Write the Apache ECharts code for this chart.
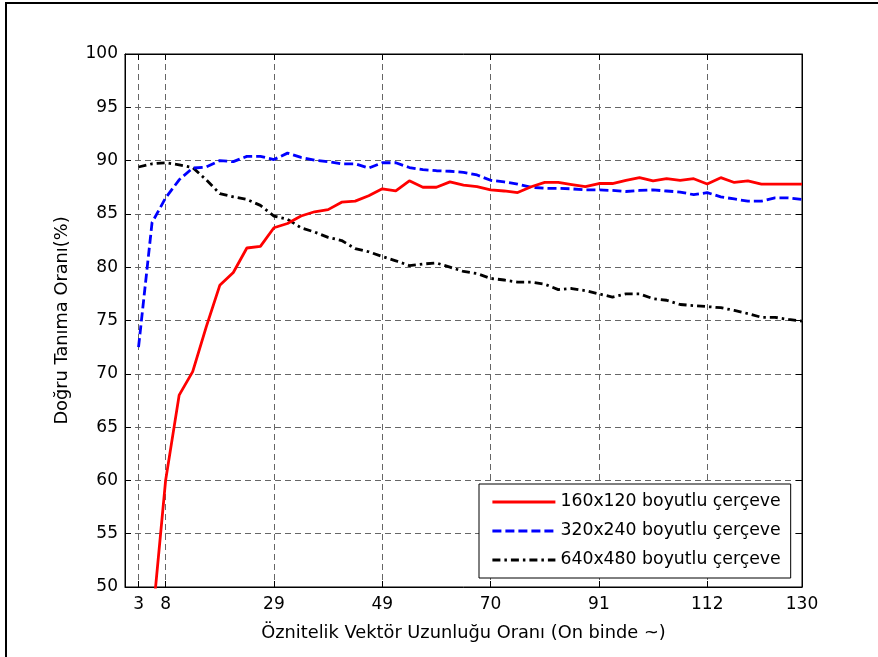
<!DOCTYPE html>
<html>
	<head>
		<meta charset="utf-8">
		<title>Doğru Tanıma Oranı</title>
		<script src="https://cdn.jsdelivr.net/npm/echarts@6/dist/echarts.min.js"></script>
		<style>
			html, body { margin: 0; padding: 0; background: #fff; }
			#chart { width: 878px; height: 657px; }
		</style>
	</head>
	<body>
		<div id="chart"></div>
		<script type="text/javascript">
			// x değerleri (on binde), her 2.6 birimde bir ölçüm
			var xValues = [0, 2.6, 5.2, 7.8, 10.4, 13, 15.6, 18.2, 20.8, 23.4, 26, 28.6, 31.2, 33.8, 36.4, 39, 41.6,
				44.2, 46.8, 49.4, 52, 54.6, 57.2, 59.8, 62.4, 65, 67.6, 70.2, 72.8, 75.4, 78, 80.6, 83.2, 85.8, 88.4,
				91, 93.6, 96.2, 98.8, 101.4, 104, 106.6, 109.2, 111.8, 114.4, 117, 119.6, 122.2, 124.8, 127.4, 130];
			var tickIndex = [1, 3, 11, 19, 27, 35, 43, 50];
			var tickLabels = ['3', '8', '29', '49', '70', '91', '112', '130'];

			var seriesNames = ['160x120 boyutlu çerçeve', '320x240 boyutlu çerçeve', '640x480 boyutlu çerçeve'];
			var red160 = [33, 46.5, 60.0, 68.0, 70.2, 74.4, 78.3, 79.5, 81.8, 81.95, 83.7, 84.1, 84.8, 85.2, 85.4,
				86.1, 86.2, 86.7, 87.35, 87.15, 88.1, 87.5, 87.5, 88.0, 87.7, 87.55, 87.25, 87.15, 87.0, 87.55, 87.95,
				87.95, 87.75, 87.55, 87.85, 87.85, 88.15, 88.4, 88.1, 88.3, 88.15, 88.3, 87.8, 88.4, 87.95, 88.1, 87.8,
				87.8, 87.8, 87.8];
			var blue320 = [72.5, 84.2, 86.5, 88.2, 89.3, 89.4, 90.0, 89.9, 90.4, 90.4, 90.1, 90.7, 90.3, 90.05, 89.9,
				89.7, 89.7, 89.3, 89.8, 89.8, 89.35, 89.15, 89.05, 89.0, 88.9, 88.65, 88.15, 88.0, 87.8, 87.5, 87.4,
				87.4, 87.35, 87.25, 87.25, 87.2, 87.1, 87.2, 87.25, 87.15, 87.05, 86.8, 87.0, 86.6, 86.4, 86.2, 86.2,
				86.5, 86.5, 86.35];
			var black640 = [89.4, 89.7, 89.8, 89.6, 89.35, 88.2, 86.9, 86.6, 86.35, 85.8, 84.8, 84.5, 83.7, 83.3, 82.8,
				82.5, 81.75, 81.45, 81.0, 80.6, 80.15, 80.3, 80.4, 80.0, 79.6, 79.4, 78.95, 78.8, 78.6, 78.6, 78.4,
				77.9, 78.0, 77.8, 77.5, 77.2, 77.5, 77.5, 77.05, 76.9, 76.5, 76.4, 76.3, 76.2, 75.95, 75.65, 75.3,
				75.3, 75.1, 74.95];

			var fontName = 'DejaVu Sans';
			var gridLine = { show: true, lineStyle: { color: '#666', width: 1, type: [6, 4] } };

			function showTick(index) {
				return tickIndex.indexOf(index) >= 0;
			}

			var chart = echarts.init(document.getElementById('chart'), null, { renderer: 'canvas' });

			var option = {
				backgroundColor: '#fff',
				animation: false,
				textStyle: { fontFamily: fontName },
				graphic: [{
					type: 'rect',
					shape: { x: 6, y: 3, width: 900, height: 700 },
					style: { fill: 'none', stroke: '#000', lineWidth: 2 },
					silent: true
				}],
				grid: {
					left: 125, right: 76, top: 54, bottom: 70,
					show: true, borderColor: '#000', borderWidth: 1, backgroundColor: '#fff'
				},
				legend: {
					orient: 'vertical',
					left: 479, top: 484,
					data: seriesNames,
					itemWidth: 63, itemHeight: 20, itemGap: 9,
					padding: [8, 10, 8, 12],
					borderColor: '#000', borderWidth: 1, backgroundColor: '#fff',
					itemStyle: { opacity: 0 },
					lineStyle: { width: 2.8 },
					textStyle: { fontFamily: fontName, fontSize: 17.3, color: '#000', lineHeight: 20 }
				},
				xAxis: [{
					type: 'category',
					data: xValues,
					boundaryGap: false,
					name: 'Öznitelik Vektör Uzunluğu Oranı (On binde ~)',
					nameLocation: 'middle',
					nameGap: 37,
					nameTextStyle: { fontFamily: fontName, fontSize: 17.8, color: '#000' },
					axisLine: { show: true, lineStyle: { color: '#000', width: 1 } },
					axisTick: { show: true, inside: true, length: 6, interval: showTick, lineStyle: { color: '#000' } },
					axisLabel: {
						show: true, interval: showTick, margin: 9,
						fontFamily: fontName, fontSize: 17, color: '#000',
						formatter: function (val, idx) { return tickLabels[tickIndex.indexOf(idx)]; }
					},
					splitLine: { show: true, interval: showTick, lineStyle: gridLine.lineStyle }
				}, {
					type: 'category',
					data: xValues,
					boundaryGap: false,
					position: 'top',
					axisLine: { show: true, lineStyle: { color: '#000' } },
					axisTick: { show: true, inside: true, length: 6, interval: showTick, lineStyle: { color: '#000' } },
					axisLabel: { show: false },
					splitLine: { show: false }
				}],
				yAxis: [{
					type: 'value',
					min: 50, max: 100, interval: 5,
					name: 'Doğru Tanıma Oranı(%)',
					nameLocation: 'middle',
					nameGap: 54,
					nameTextStyle: { fontFamily: fontName, fontSize: 17.8, color: '#000' },
					axisLine: { show: true, lineStyle: { color: '#000', width: 1 } },
					axisTick: { show: true, inside: true, length: 6, lineStyle: { color: '#000' } },
					axisLabel: { margin: 7, fontFamily: fontName, fontSize: 17, color: '#000' },
					splitLine: gridLine
				}, {
					type: 'value',
					min: 50, max: 100, interval: 5,
					position: 'right',
					axisLine: { show: true, lineStyle: { color: '#000' } },
					axisTick: { show: true, inside: true, length: 6, lineStyle: { color: '#000' } },
					axisLabel: { show: false },
					splitLine: { show: false }
				}],
				series: [{
					name: seriesNames[0],
					type: 'line',
					data: [null].concat(red160),
					symbol: 'none',
					clip: true,
					lineStyle: { color: '#ff0000', width: 2.8, type: 'solid' },
					itemStyle: { color: '#ff0000' },
					z: 4
				}, {
					name: seriesNames[1],
					type: 'line',
					data: [null].concat(blue320),
					symbol: 'none',
					clip: true,
					lineStyle: { color: '#0000ff', width: 2.8, type: [9, 4] },
					itemStyle: { color: '#0000ff' },
					z: 3
				}, {
					name: seriesNames[2],
					type: 'line',
					data: [null].concat(black640),
					symbol: 'none',
					clip: true,
					lineStyle: { color: '#000', width: 2.8, type: [8, 4, 2.5, 4] },
					itemStyle: { color: '#000' },
					z: 2
				}]
			};
			chart.setOption(option);
		</script>
	</body>
</html>
